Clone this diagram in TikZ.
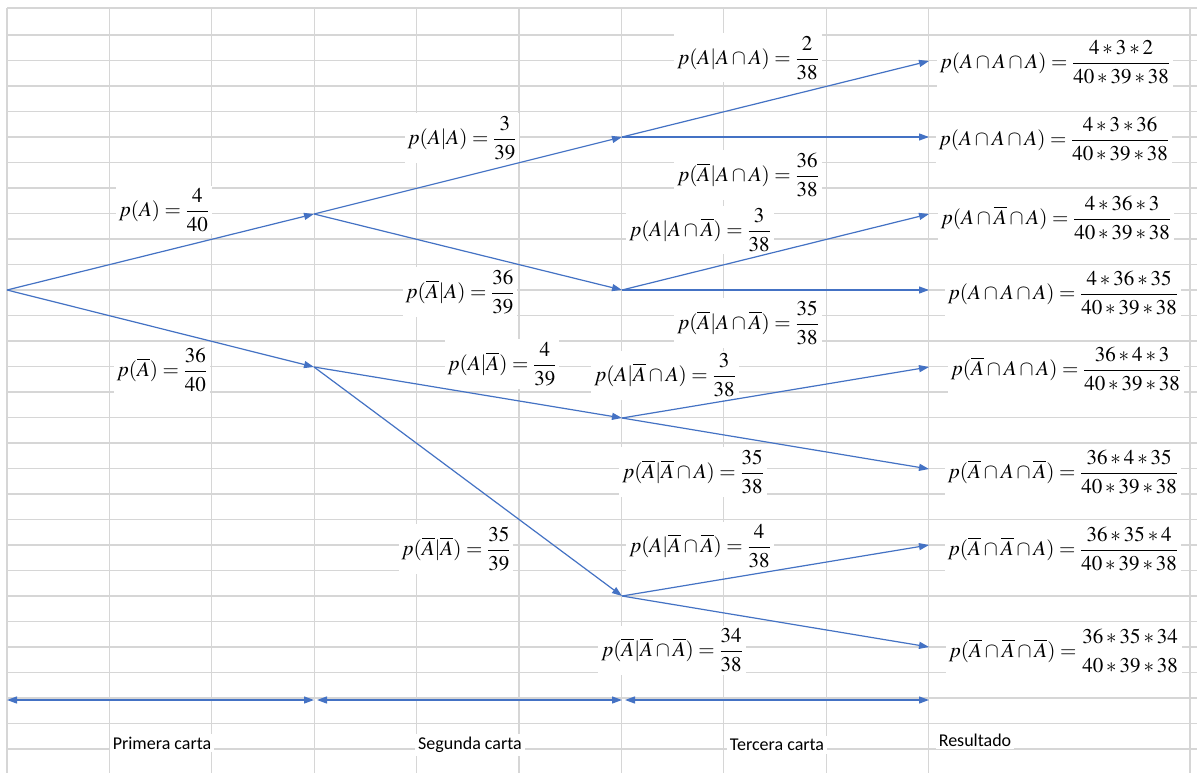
\documentclass[tikz,border=0pt]{standalone}
\usepackage{amsmath}
\usepackage{mathptmx}
\usepackage{fontspec}
\setmainfont{Liberation Serif}
\newfontfamily\calfont{Carlito}
\usetikzlibrary{arrows.meta}
\definecolor{brblue}{HTML}{4472C4}
\definecolor{gridgray}{HTML}{D6D6D6}
\newcommand{\nA}{\overline{A}}
\newcommand{\nobar}[2]{\genfrac{}{}{0pt}{0}{#1}{#2}}
\begin{document}
\begin{tikzpicture}[x=1pt,y=-1pt,
  gridline/.style={gridgray, line width=1.2pt},
  br/.style={brblue, line width=1.2pt, -{Triangle[length=10pt,width=7pt]}},
  spanarrow/.style={brblue, line width=1.2pt, {Triangle[length=10pt,width=7pt]}-{Triangle[length=10pt,width=7pt]}},
  lab/.style={fill=white, inner sep=3pt, font=\fontsize{21}{25}\selectfont},
  res/.style={fill=white, inner sep=3pt, font=\fontsize{21}{25}\selectfont},
  col/.style={fill=white, inner sep=3pt, font=\calfont\fontsize{18}{21}\selectfont}]
\useasboundingbox (0,0) rectangle (1197,773);
\fill[white] (0,0) rectangle (1197,773);
% spreadsheet grid
\foreach \k in {0,...,9} \draw[gridline] ({7+102.4*\k},8) -- ({7+102.4*\k},773);
\draw[gridline] (1190,8) -- (1190,773);
\draw[gridline] (7,8) -- (1197,8);
\foreach \k in {0,...,28} \draw[gridline] (7,{35+25.5*\k}) -- (1197,{35+25.5*\k});

% tree points
\coordinate (r) at (7,290);
\coordinate (a) at (314,214);
\coordinate (b) at (314,367);
\coordinate (aa) at (622,137);
\coordinate (ab) at (622,290);
\coordinate (ba) at (622,418);
\coordinate (bb) at (622,596);
\coordinate (e1) at (929,61);
\coordinate (e2) at (929,137);
\coordinate (e3) at (929,214);
\coordinate (e4) at (929,290);
\coordinate (e5) at (929,367);
\coordinate (e6) at (929,469);
\coordinate (e7) at (929,545);
\coordinate (e8) at (929,647);
\coordinate (s0) at (7,700);
\coordinate (s1) at (314,700);
\coordinate (s1b) at (317,700);
\coordinate (s2) at (622,700);
\coordinate (s2b) at (625,700);
\coordinate (s3) at (929,700);

% branch labels
\node[lab] (l1) at (164,210) {$p(A)=\dfrac{4}{40}$};
\node[lab] (l2) at (162,370) {$p(\nA)=\dfrac{36}{40}$};
\node[lab] (l3) at (462,138) {$p(A|A)=\dfrac{3}{39}$};
\node[lab] (l4) at (460,292) {$p(\nA|A)=\dfrac{36}{39}$};
\node[lab] (l5) at (502,364) {$p(A|\nA)=\dfrac{4}{39}$};
\node[lab] (l6) at (456,549) {$p(\nA|\nA)=\dfrac{35}{39}$};
\node[lab] (l7) at (748,58) {$p(A|A\cap A)=\dfrac{2}{38}$};
\node[lab] (l8) at (748,175) {$p(\nA|A\cap A)=\dfrac{36}{38}$};
\node[lab] (l9) at (700,230) {$p(A|A\cap \nA)=\dfrac{3}{38}$};
\node[lab] (l10) at (748,323) {$p(\nA|A\cap \nA)=\dfrac{35}{38}$};
\node[lab] (l11) at (665,375) {$p(A|\nA\cap A)=\dfrac{3}{38}$};
\node[lab] (l12) at (693,472) {$p(\nA|\nA\cap A)=\dfrac{35}{38}$};
\node[lab] (l13) at (700,546) {$p(A|\nA\cap \nA)=\dfrac{4}{38}$};
\node[lab] (l14) at (672,650) {$p(\nA|\nA\cap \nA)=\dfrac{34}{38}$};

% results
\node[res] (r1) at (1055,62) {$p(A\cap A\cap A)=\dfrac{4\ast3\ast2}{40\ast39\ast38}$};
\node[res] (r2) at (1054,139) {$p(A\cap A\cap A)=\dfrac{4\ast3\ast36}{40\ast39\ast38}$};
\node[res] (r3) at (1056,218) {$p(A\cap \nA\cap A)=\dfrac{4\ast36\ast3}{40\ast39\ast38}$};
\node[res] (r4) at (1063,293) {$p(A\cap A\cap A)=\dfrac{4\ast36\ast35}{40\ast39\ast38}$};
\node[res] (r5) at (1066,369) {$p(\nA\cap A\cap A)=\dfrac{36\ast4\ast3}{40\ast39\ast38}$};
\node[res] (r6) at (1063,472) {$p(\nA\cap A\cap \nA)=\dfrac{36\ast4\ast35}{40\ast39\ast38}$};
\node[res] (r7) at (1063,549) {$p(\nA\cap \nA\cap A)=\dfrac{36\ast35\ast4}{40\ast39\ast38}$};
\node[res] (r8) at (1064,651) {$p(\nA\cap \nA\cap \nA)=\nobar{36\ast35\ast34}{40\ast39\ast38}$};

% column captions
\node[col] (c1) at (162,743) {Primera carta};
\node[col] (c2) at (470,745) {Segunda carta};
\node[col] (c3) at (777,745) {Tercera carta};
\node[col] (c4) at (975,740) {Resultado};

% branches
\draw[br] (r) -- (a);
\draw[br] (r) -- (b);
\draw[br] (a) -- (aa);
\draw[br] (a) -- (ab);
\draw[br] (b) -- (ba);
\draw[br] (b) -- (bb);
\draw[br] (aa) -- (e1);
\draw[br] (aa) -- (e2);
\draw[br] (ab) -- (e3);
\draw[br] (ab) -- (e4);
\draw[br] (ba) -- (e5);
\draw[br] (ba) -- (e6);
\draw[br] (bb) -- (e7);
\draw[br] (bb) -- (e8);

% stage spans
\draw[spanarrow] (s0) -- (s1);
\draw[spanarrow] (s1b) -- (s2);
\draw[spanarrow] (s2b) -- (s3);
\end{tikzpicture}
\end{document}
